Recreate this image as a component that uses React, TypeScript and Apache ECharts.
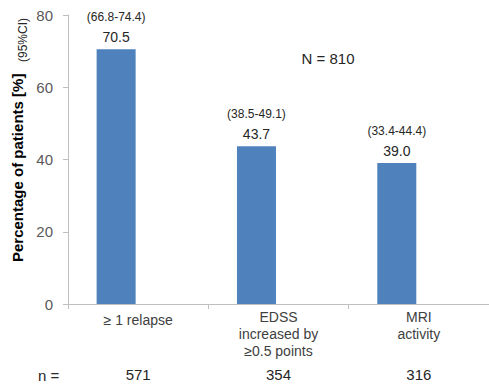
import React, { useEffect, useRef } from "react";
import * as echarts from "echarts";

const categories = ["≥ 1 relapse", "EDSS\nincreased by\n≥0.5 points", "MRI\nactivity"];
const percentages = [70.5, 43.7, 39.0];
const ciLabels = ["(66.8-74.4)", "(38.5-49.1)", "(33.4-44.4)"];
const nValues = ["571", "354", "316"];
const yTicks = { min: 0, max: 80, interval: 20 };
const totalN = "N = 810";
const yTitle = "Percentage of patients [%]";
const yTitleCI = "(95%CI)";

export default function App() {
  const ref = useRef<HTMLDivElement>(null);
  useEffect(() => {
    if (!ref.current) return;
    const chart = echarts.init(ref.current, null, { renderer: "svg" });
    const font = "Liberation Sans, Arial, sans-serif";
    chart.setOption({
      animation: false,
      textStyle: { fontFamily: font },
      grid: { left: 68, top: 15, width: 426, bottom: 82 },
      xAxis: [
        {
          type: "category",
          data: categories,
          axisLine: { lineStyle: { color: "#BFBFBF" } },
          axisTick: { show: true, length: 5, lineStyle: { color: "#BFBFBF" } },
          axisLabel: {
            interval: 0,
            margin: 4,
            fontSize: 14,
            lineHeight: 17,
            color: "#404040",
            fontFamily: font,
            formatter: (v: string, i: number) => (i === 0 ? "{p|" + v + "}" : v),
            rich: { p: { fontSize: 14, lineHeight: 17, padding: [6, 0, 0, 0], color: "#404040", fontFamily: font } },
          },
        },
        {
          type: "category",
          data: nValues,
          position: "bottom",
          offset: 60,
          axisLine: { show: false },
          axisTick: { show: false },
          axisLabel: { interval: 0, margin: 3, fontSize: 15, color: "#262626", fontFamily: font },
        },
      ],
      yAxis: {
        type: "value",
        min: yTicks.min,
        max: yTicks.max,
        interval: yTicks.interval,
        splitLine: { show: false },
        axisLine: { show: true, lineStyle: { color: "#BFBFBF" } },
        axisTick: { show: true, length: 5, lineStyle: { color: "#BFBFBF" } },
        axisLabel: { margin: 15, fontSize: 15, color: "#595959", fontFamily: font },
      },
      series: [
        {
          type: "bar",
          xAxisIndex: 0,
          data: percentages,
          barWidth: 39,
          barGap: "13%",
          itemStyle: { color: "#4F81BD" },
          label: {
            show: true,
            position: "top",
            distance: 2,
            formatter: (p: any) => "{ci|" + ciLabels[p.dataIndex] + "}\n{v|" + p.value.toFixed(1) + "}",
            rich: {
              ci: { fontSize: 12, lineHeight: 20, color: "#262626", fontFamily: font },
              v: { fontSize: 14, lineHeight: 20, color: "#262626", fontFamily: font },
            },
          },
        },
        {
          type: "bar",
          xAxisIndex: 0,
          data: percentages.map(() => "-"),
          barWidth: 39,
          barGap: "13%",
        },
      ],
      graphic: [
        {
          type: "text",
          x: 17,
          y: 262,
          rotation: Math.PI / 2,
          style: {
            text: yTitle,
            font: "bold 15px " + font,
            fill: "#000000",
            align: "left",
            verticalAlign: "middle",
          },
        },
        {
          type: "text",
          x: 23,
          y: 62,
          rotation: Math.PI / 2,
          style: {
            text: yTitleCI,
            font: "12px " + font,
            fill: "#262626",
            align: "left",
            verticalAlign: "middle",
          },
        },
        {
          type: "text",
          x: 328,
          y: 58,
          style: {
            text: totalN,
            font: "15px " + font,
            fill: "#262626",
            align: "center",
            verticalAlign: "middle",
          },
        },
        {
          type: "text",
          x: 38,
          y: 375,
          style: {
            text: "n =",
            font: "15px " + font,
            fill: "#262626",
            align: "left",
            verticalAlign: "middle",
          },
        },
      ],
    });
    return () => chart.dispose();
  }, []);
  return (
    <div
      ref={ref}
      style={{ position: "fixed", left: 0, top: 0, width: 489, height: 386, background: "#ffffff" }}
    />
  );
}
